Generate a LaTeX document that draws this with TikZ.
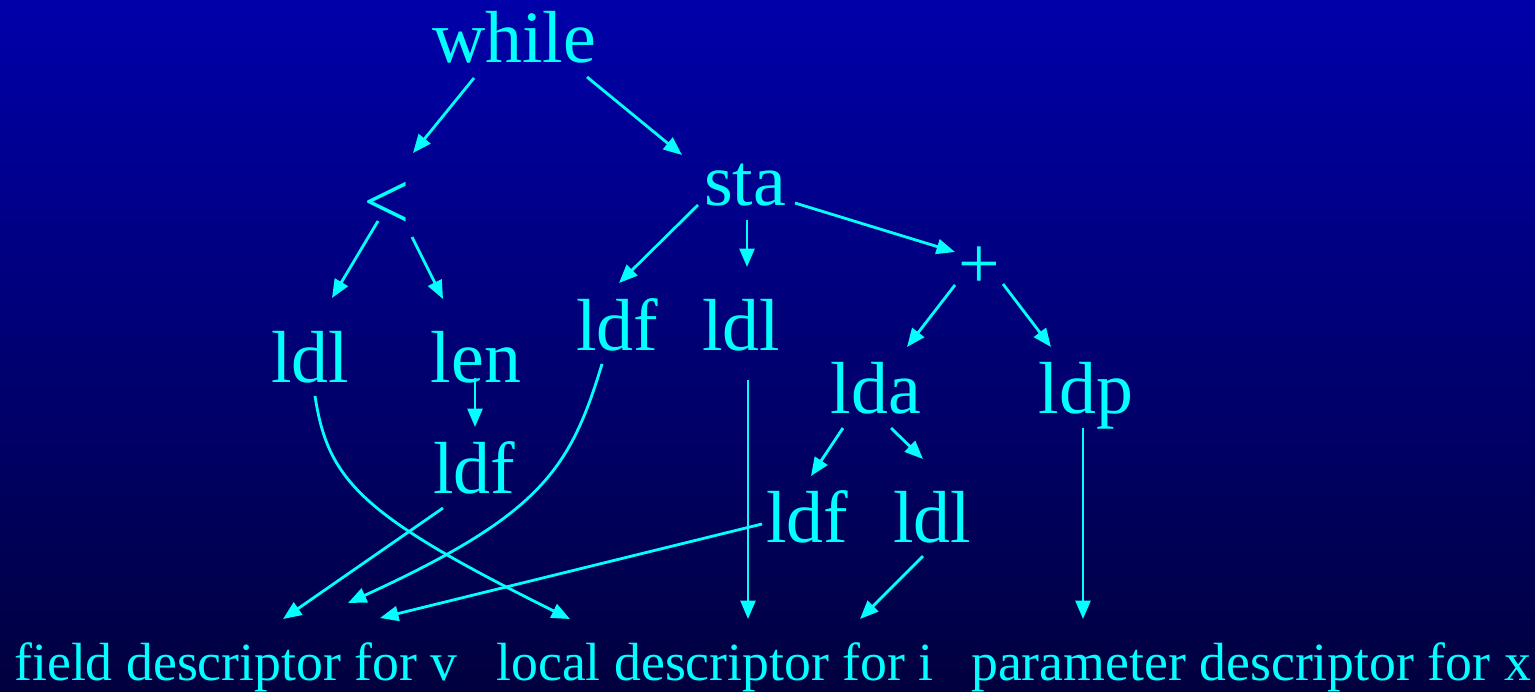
\documentclass[tikz,border=0pt]{standalone}
\usepackage{fontspec}
\setmainfont{Liberation Serif}
\usepackage{tikz}
\usetikzlibrary{arrows.meta,calc}
\definecolor{slideTop}{HTML}{0000AA}
\definecolor{slideBottom}{HTML}{00003E}
\definecolor{treeCyan}{HTML}{00FFFF}
\newcommand{\treefont}{\fontsize{42}{50}\selectfont}
\newcommand{\descfont}{\fontsize{30.6}{36}\selectfont}
\tikzset{
  opnode/.style={font=\treefont,text=treeCyan,anchor=base,inner sep=0pt},
  descnode/.style={font=\descfont,text=treeCyan,anchor=base,inner sep=0pt},
  edgeline/.style={->,draw=treeCyan,line width=1.6pt}
}

\begin{document}
\begin{tikzpicture}[x=0.02cm,y=-0.02cm,>={Triangle[length=10.5pt,width=8.5pt]}]
  \fill[top color=slideTop,bottom color=slideBottom] (0,0) rectangle (1535,691);
  \useasboundingbox (0,0) rectangle (1535,691);
  % tree
  \node[opnode] (while) at (514,62) {while};
  \node[opnode,font=\fontsize{47}{50}\selectfont] (lt) at (387,229) {<};
  \node[opnode] (sta)   at (745,205) {sta};
  \node[opnode] (plus)  at (979,288) {+};
  \node[opnode] (ldlA)  at (310,382) {ldl};
  \node[opnode] (len)   at (476,382) {len};
  \node[opnode] (ldfA)  at (617,350) {ldf};
  \node[opnode] (ldlB)  at (741,350) {ldl};
  \node[opnode] (lda)   at (876,413) {lda};
  \node[opnode] (ldp)   at (1086,413) {ldp};
  \node[opnode] (ldfB)  at (474,493) {ldf};
  \node[opnode] (ldfC)  at (807,542) {ldf};
  \node[opnode] (ldlC)  at (932,542) {ldl};
  % descriptors
  \node[descnode] (fieldv) at (236,680) {field descriptor for v};
  \node[descnode] (locali) at (715,680) {local descriptor for i};
  \node[descnode] (paramx) at (1251,680) {parameter descriptor for x};
  % straight links
  \foreach \from/\fo/\to/\tof in {
      while/{-40,16}/lt/{26,-76}, while/{73,15}/sta/{-63,-50},
      lt/{-9,-8}/ldlA/{22,-84}, lt/{25,8}/len/{-33,-83},
      sta/{-47,0}/ldfA/{2,-67}, sta/{2,15}/ldlB/{6,-83},
      sta/{50,-2}/plus/{-24,-36},
      plus/{-24,-3}/lda/{31,-66}, plus/{24,-4}/ldp/{-35,-66},
      len/{-1,-4}/ldfB/{1,-66},
      lda/{-33,15}/ldfC/{4,-66}, lda/{15,15}/ldlC/{-9,-83},
      ldlC/{-9,14}/locali/{145,-61}, ldp/{-3,15}/paramx/{-168,-61},
      ldlB/{7,30}/locali/{33,-61}, ldfB/{-31,15}/fieldv/{47,-61},
      ldfC/{-45,-18}/fieldv/{144,-62}}
    \draw[edgeline] ($(\from.base)+(\fo)$) -- ($(\to.base)+(\tof)$);
  % curved links
  \draw[edgeline] ($(ldfA.base)+(-15,14)$) .. controls (570,470) and (540,515) .. ($(fieldv.base)+(112,-77)$);
  \draw[edgeline] ($(ldlA.base)+(5,14)$) .. controls (328,480) and (360,515) .. ($(locali.base)+(-145,-61)$);
\end{tikzpicture}
\end{document}
